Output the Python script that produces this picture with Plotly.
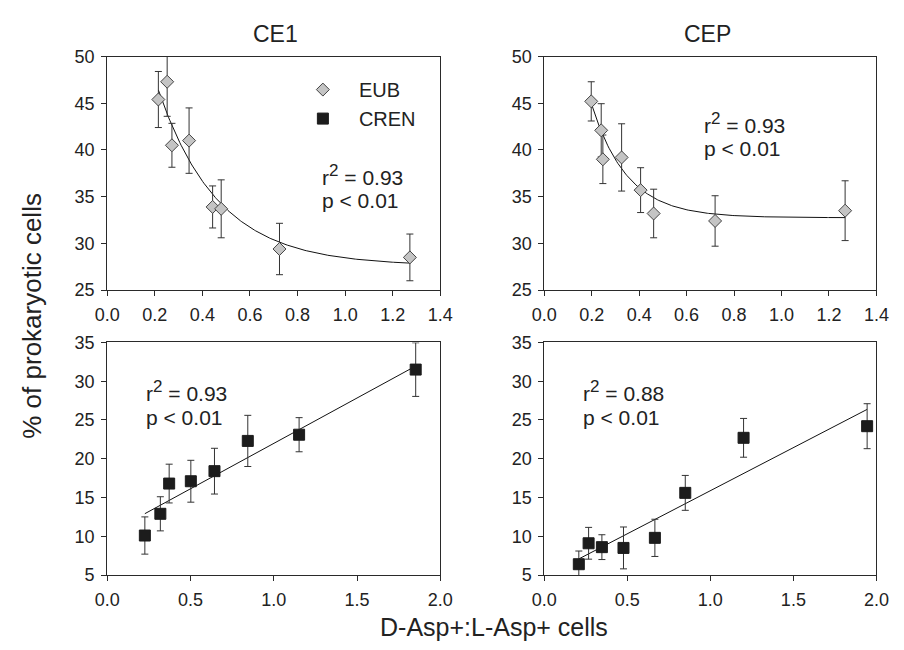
import numpy as np
import plotly.graph_objects as go

W, H = 904, 650

# ---------------- data ----------------
# CE1 - EUB
ce1_eub_x = [0.215, 0.252, 0.272, 0.344, 0.443, 0.479, 0.724, 1.272]
ce1_eub_y = [45.4, 47.3, 40.5, 41.0, 33.9, 33.7, 29.4, 28.5]
ce1_eub_err = [3.0, 3.7, 2.35, 3.5, 2.25, 3.1, 2.75, 2.5]
# CEP - EUB
cep_eub_x = [0.198, 0.240, 0.247, 0.326, 0.406, 0.461, 0.720, 1.268]
cep_eub_y = [45.2, 42.1, 39.0, 39.2, 35.7, 33.2, 32.4, 33.5]
cep_eub_err = [2.1, 2.85, 2.6, 3.6, 2.4, 2.6, 2.7, 3.2]
# CE1 - CREN
ce1_cren_x = [0.226, 0.319, 0.372, 0.502, 0.644, 0.844, 1.152, 1.852]
ce1_cren_y = [10.1, 12.9, 16.8, 17.1, 18.4, 22.3, 23.1, 31.5]
ce1_cren_err = [2.4, 2.2, 2.5, 2.7, 2.95, 3.3, 2.2, 3.46]
# CEP - CREN
cep_cren_x = [0.208, 0.267, 0.347, 0.477, 0.666, 0.849, 1.200, 1.944]
cep_cren_y = [6.4, 9.1, 8.6, 8.5, 9.8, 15.6, 22.7, 24.2]
cep_cren_err = [1.7, 2.05, 1.6, 2.7, 2.4, 2.25, 2.5, 2.9]

# fitted models
ce1_exp_fit = dict(y0=27.6, a=44.0, b=3.95)
cep_exp_fit = dict(y0=32.75, a=45.6, b=6.64)
ce1_lin_fit = dict(slope=11.71, intercept=10.27)
cep_lin_fit = dict(slope=11.11, intercept=4.77)

SUP2 = "r<sup><span style='font-size:17px'>2</span></sup>"
stats_text = {
    "CE1_top": (SUP2 + " = 0.93", "p < 0.01"),
    "CEP_top": (SUP2 + " = 0.93", "p < 0.01"),
    "CE1_bot": (SUP2 + " = 0.93", "p < 0.01"),
    "CEP_bot": (SUP2 + " = 0.88", "p < 0.01"),
}
col_titles = ["CE1", "CEP"]
y_title = "% of prokaryotic cells"
x_title = "D-Asp+:L-Asp+ cells"
top_xticks = [0.0, 0.2, 0.4, 0.6, 0.8, 1.0, 1.2, 1.4]
bot_xticks = [0.0, 0.5, 1.0, 1.5, 2.0]
top_yticks = [25, 30, 35, 40, 45, 50]
bot_yticks = [5, 10, 15, 20, 25, 30, 35]

# ---------------- layout helpers ----------------
def px_x(p):
    return p / W

def px_y(p):
    return 1 - p / H

FONT = "Liberation Sans, Arial, sans-serif"
INK = "#222222"
LINE = "#2a2a2a"

xdom_left = [px_x(97), px_x(440)]
xdom_right = [px_x(547), px_x(889)]
ydom_top = [px_y(289), px_y(48)]
ydom_bot = [px_y(583), px_y(343)]

fig = go.Figure()

diamond = dict(symbol="diamond", size=10, color="#c4c4c4", line=dict(color="#444444", width=1))
square = dict(symbol="square", size=11, color="#1c1c1c", line=dict(color="#1c1c1c", width=1))
err_style = dict(type="data", thickness=1, width=3.5, color="#333333")

def exp_curve(xs, p):
    xx = np.linspace(min(xs), max(xs), 200)
    return xx, p["y0"] + p["a"] * np.exp(-p["b"] * xx)

def lin_curve(xs, p):
    xx = np.array([min(xs), max(xs)])
    return xx, p["intercept"] + p["slope"] * xx

panels = [
    ("x", "y", ce1_eub_x, ce1_eub_y, ce1_eub_err, diamond, "EUB", True, exp_curve, ce1_exp_fit),
    ("x2", "y2", cep_eub_x, cep_eub_y, cep_eub_err, diamond, "EUB", False, exp_curve, cep_exp_fit),
    ("x3", "y3", ce1_cren_x, ce1_cren_y, ce1_cren_err, square, "CREN", True, lin_curve, ce1_lin_fit),
    ("x4", "y4", cep_cren_x, cep_cren_y, cep_cren_err, square, "CREN", False, lin_curve, cep_lin_fit),
]

for xa, ya, xs, ys, es, mk, name, leg, fn, par in panels:
    cx, cy = fn(xs, par)
    fig.add_trace(go.Scatter(x=cx, y=cy, mode="lines", line=dict(color="#111111", width=1),
                             xaxis=xa, yaxis=ya, showlegend=False, hoverinfo="skip"))
    fig.add_trace(go.Scatter(x=xs, y=ys, mode="markers", marker=mk, name=name,
                             error_y=dict(array=es, **err_style),
                             xaxis=xa, yaxis=ya, showlegend=leg))

axis_common = dict(showline=True, linecolor=LINE, linewidth=1, mirror=True, ticks="outside",
                   ticklen=5, tickwidth=1, tickcolor=LINE, showgrid=False, zeroline=False,
                   tickfont=dict(family=FONT, size=18, color=INK))

fig.update_layout(
    width=W, height=H, margin=dict(l=0, r=0, t=0, b=0),
    paper_bgcolor="white", plot_bgcolor="white",
    font=dict(family=FONT, color=INK),
    xaxis=dict(domain=xdom_left, anchor="y", range=[0, 1.4], tickvals=top_xticks, tickformat=".1f", ticklabelstandoff=3, **axis_common),
    yaxis=dict(domain=ydom_top, anchor="x", range=[25, 50], tickvals=top_yticks, ticklabelstandoff=3, **axis_common),
    xaxis2=dict(domain=xdom_right, anchor="y2", range=[0, 1.4], tickvals=top_xticks, tickformat=".1f", ticklabelstandoff=3, **axis_common),
    yaxis2=dict(domain=ydom_top, anchor="x2", range=[25, 50], tickvals=top_yticks, ticklabelstandoff=3, **axis_common),
    xaxis3=dict(domain=xdom_left, anchor="y3", range=[0, 2.0], tickvals=bot_xticks, tickformat=".1f", ticklabelstandoff=3, **axis_common),
    yaxis3=dict(domain=ydom_bot, anchor="x3", range=[5, 35], tickvals=bot_yticks, ticklabelstandoff=3, **axis_common),
    xaxis4=dict(domain=xdom_right, anchor="y4", range=[0, 2.0], tickvals=bot_xticks, tickformat=".1f", ticklabelstandoff=3, **axis_common),
    yaxis4=dict(domain=ydom_bot, anchor="x4", range=[5, 35], tickvals=bot_yticks, ticklabelstandoff=3, **axis_common),
    legend=dict(x=px_x(282), y=px_y(62), xanchor="left", yanchor="top", bgcolor="rgba(0,0,0,0)",
                font=dict(family=FONT, size=20, color=INK), itemwidth=62, tracegroupgap=0),
    showlegend=True,
)

ann = []
ann.append(dict(text=col_titles[0], x=px_x(270), y=px_y(25), xref="paper", yref="paper",
                showarrow=False, font=dict(size=23, family=FONT, color=INK), xanchor="center", yanchor="middle"))
ann.append(dict(text=col_titles[1], x=px_x(715), y=px_y(25), xref="paper", yref="paper",
                showarrow=False, font=dict(size=23, family=FONT, color=INK), xanchor="center", yanchor="middle"))
ann.append(dict(text=y_title, x=px_x(20), y=px_y(315), xref="paper", yref="paper", textangle=-90,
                showarrow=False, font=dict(size=26, family=FONT, color=INK), xanchor="center", yanchor="middle"))
ann.append(dict(text=x_title, x=px_x(495), y=px_y(637), xref="paper", yref="paper",
                showarrow=False, font=dict(size=25, family=FONT, color=INK), xanchor="center", yanchor="middle"))

stat_pos = {
    "CE1_top": (316, 170, 197),
    "CEP_top": (709, 117, 143),
    "CE1_bot": (135, 393, 420),
    "CEP_bot": (585, 393, 420),
}
for key, (l1, l2) in stats_text.items():
    xp, y1, y2 = stat_pos[key]
    ann.append(dict(text=l1, x=px_x(xp), y=px_y(y1), xref="paper", yref="paper", showarrow=False,
                    font=dict(size=21, family=FONT, color=INK), xanchor="left", yanchor="middle"))
    ann.append(dict(text=l2, x=px_x(xp), y=px_y(y2), xref="paper", yref="paper", showarrow=False,
                    font=dict(size=21, family=FONT, color=INK), xanchor="left", yanchor="middle"))
fig.update_layout(annotations=ann)

fig.write_html("out.html", post_script="document.body.style.margin='0';")
